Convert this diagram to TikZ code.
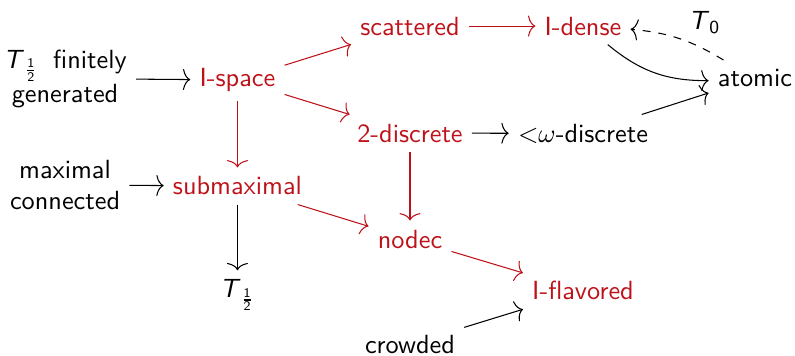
\documentclass[tikz,border=0pt]{standalone}
\usepackage{fontspec}
\usetikzlibrary{arrows.meta}
\renewcommand{\familydefault}{\sfdefault}
\definecolor{propred}{RGB}{190,18,26}
\newcommand{\Thalf}{\textit{T}$_{\frac{\mathsf{1}}{\mathsf{2}}}$}

\begin{document}
\begin{tikzpicture}[>={To[length=2.8pt,width=8pt]},
    sp/.style={anchor=base},
    pr/.style={anchor=base,text=propred},
    imp/.style={->},
    pimp/.style={->,propred}]
    \useasboundingbox (0,0) rectangle (10.63,-4.76);

    \node[align=center] (fg) at (0.87,-1.05) {\Thalf\hspace{5.5pt}finitely\\[1pt]generated};
    \node[pr] (ispace) at (3.175,-1.157) {I-space};
    \node[pr] (scat) at (5.482,-0.468) {scattered};
    \node[pr] (idense) at (7.795,-0.468) {I-dense};
    \node[sp] (atomic) at (10.094,-1.157) {atomic};
    \node[pr] (twodisc) at (5.482,-1.899) {2-discrete};
    \node[sp] (omdisc) at (7.795,-1.899) {${<}\omega$-discrete};

    \node[align=center] (maxconn) at (0.87,-2.473) {maximal\\connected};
    \node[pr] (submax) at (3.175,-2.607) {submaximal};
    \node[pr] (nodec) at (5.482,-3.316) {nodec};
    \node[sp] (thalf) at (3.175,-3.98) {\Thalf};
    \node[pr] (iflav) at (7.795,-4.011) {I-flavored};
    \node[sp] (crowded) at (5.482,-4.72) {crowded};

    \draw[imp] (fg) -- (ispace);
    \draw[pimp] (ispace) -- (scat);
    \draw[pimp] (ispace) -- (twodisc);
    \draw[pimp] (ispace) -- (submax);
    \draw[pimp] (scat) -- (idense);
    \draw[imp] (idense) to[bend right=20] (atomic);
    \draw[imp,dashed] (atomic) to[bend right=13] node[pos=0.28,above=1pt,xshift=2.5pt] {\textit{T}$_{\mathsf{0}}$} (idense);
    \draw[imp] (twodisc) -- (omdisc);
    \draw[imp] (omdisc) -- (atomic);
    \draw[pimp] (twodisc) -- (nodec);

    \draw[imp] (maxconn) -- (submax);
    \draw[imp] (submax) -- (thalf);
    \draw[pimp] (submax) -- (nodec);
    \draw[pimp] (nodec) -- (iflav);
    \draw[imp] (crowded) -- (iflav);
  \end{tikzpicture}
\end{document}
